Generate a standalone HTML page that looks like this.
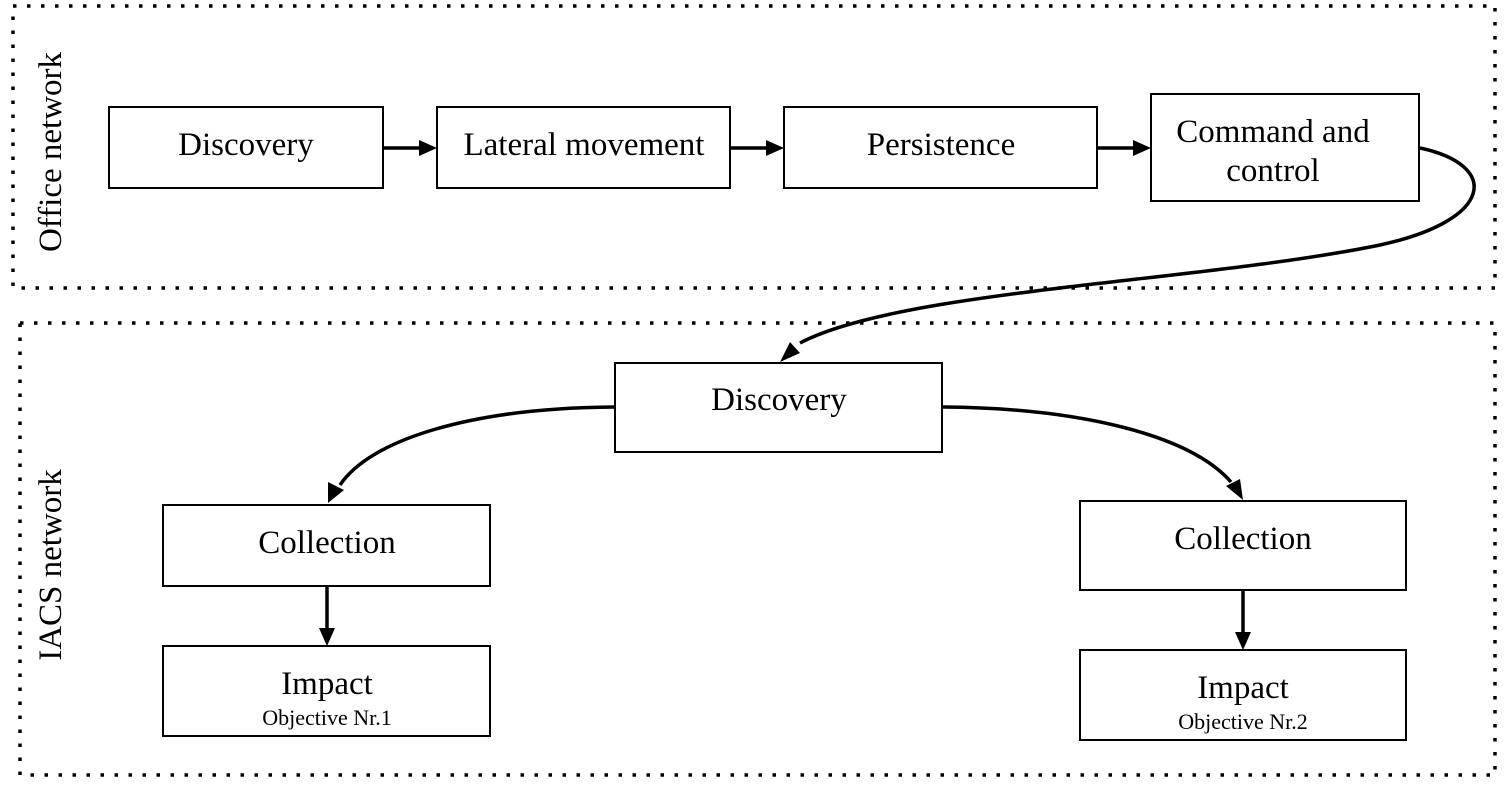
<!DOCTYPE html>
<html><head><meta charset="utf-8"><style>
html,body{margin:0;padding:0;background:#fff;}
svg{display:block;}
text{font-family:"Liberation Serif",serif;fill:#000;}
</style></head><body>
<svg width="1512" height="790" viewBox="0 0 1512 790" xmlns="http://www.w3.org/2000/svg">
<g fill="none" stroke="#000" stroke-width="3.5" stroke-dasharray="3.5 10.5">
<rect x="13" y="6" width="1482" height="282"/>
<rect x="20" y="323" width="1475" height="452"/>
</g>
<text transform="translate(61,152) rotate(-90)" font-size="33" text-anchor="middle">Office network</text>
<text transform="translate(61,565) rotate(-90)" font-size="33" text-anchor="middle">IACS network</text>
<g fill="#fff" stroke="#000" stroke-width="2">
<rect x="109" y="107" width="274" height="81"/>
<rect x="437" y="107" width="293" height="81"/>
<rect x="784" y="107" width="313" height="81"/>
<rect x="1151" y="94" width="268" height="107"/>
<rect x="615" y="363" width="327" height="89"/>
<rect x="163" y="505" width="327" height="81"/>
<rect x="163" y="646" width="327" height="90"/>
<rect x="1080" y="501" width="326" height="89"/>
<rect x="1080" y="650" width="326" height="90"/>
</g>
<g font-size="33" text-anchor="middle">
<text x="246" y="155">Discovery</text>
<text x="584" y="155">Lateral movement</text>
<text x="941" y="155">Persistence</text>
<text x="1273" y="142">Command and</text>
<text x="1273" y="181">control</text>
<text x="779" y="410">Discovery</text>
<text x="327" y="553">Collection</text>
<text x="327" y="694">Impact</text>
<text x="1243" y="549">Collection</text>
<text x="1243" y="698">Impact</text>
</g>
<g font-size="22" text-anchor="middle">
<text x="327" y="725">Objective Nr.1</text>
<text x="1243" y="729">Objective Nr.2</text>
</g>
<g fill="none" stroke="#000" stroke-width="3.5">
<line x1="383" y1="148" x2="420" y2="148"/>
<line x1="730" y1="148" x2="767" y2="148"/>
<line x1="1097" y1="148" x2="1134" y2="148"/>
<line x1="327" y1="586" x2="327" y2="630"/>
<line x1="1243" y1="590" x2="1243" y2="634"/>
<path d="M1420,148 C1500,165 1495,220 1380,245 C1200,282 900,290 800,343"/>
<path d="M614,407 C470,408 370,440 340,485"/>
<path d="M943,407 C1080,408 1190,435 1231,482"/>
</g>
<g fill="#000">
<polygon points="437,148 419,140 419,156"/>
<polygon points="784,148 766,140 766,156"/>
<polygon points="1151,148 1133,140 1133,156"/>
<polygon points="327,646 319,628 335,628"/>
<polygon points="1243,650 1235,632 1251,632"/>
<polygon points="780,362 790,342 800,353"/>
<polygon points="328,503 328,482 344,490"/>
<polygon points="1243,500 1226,486 1240,479"/>
</g>
</svg>
</body></html>
